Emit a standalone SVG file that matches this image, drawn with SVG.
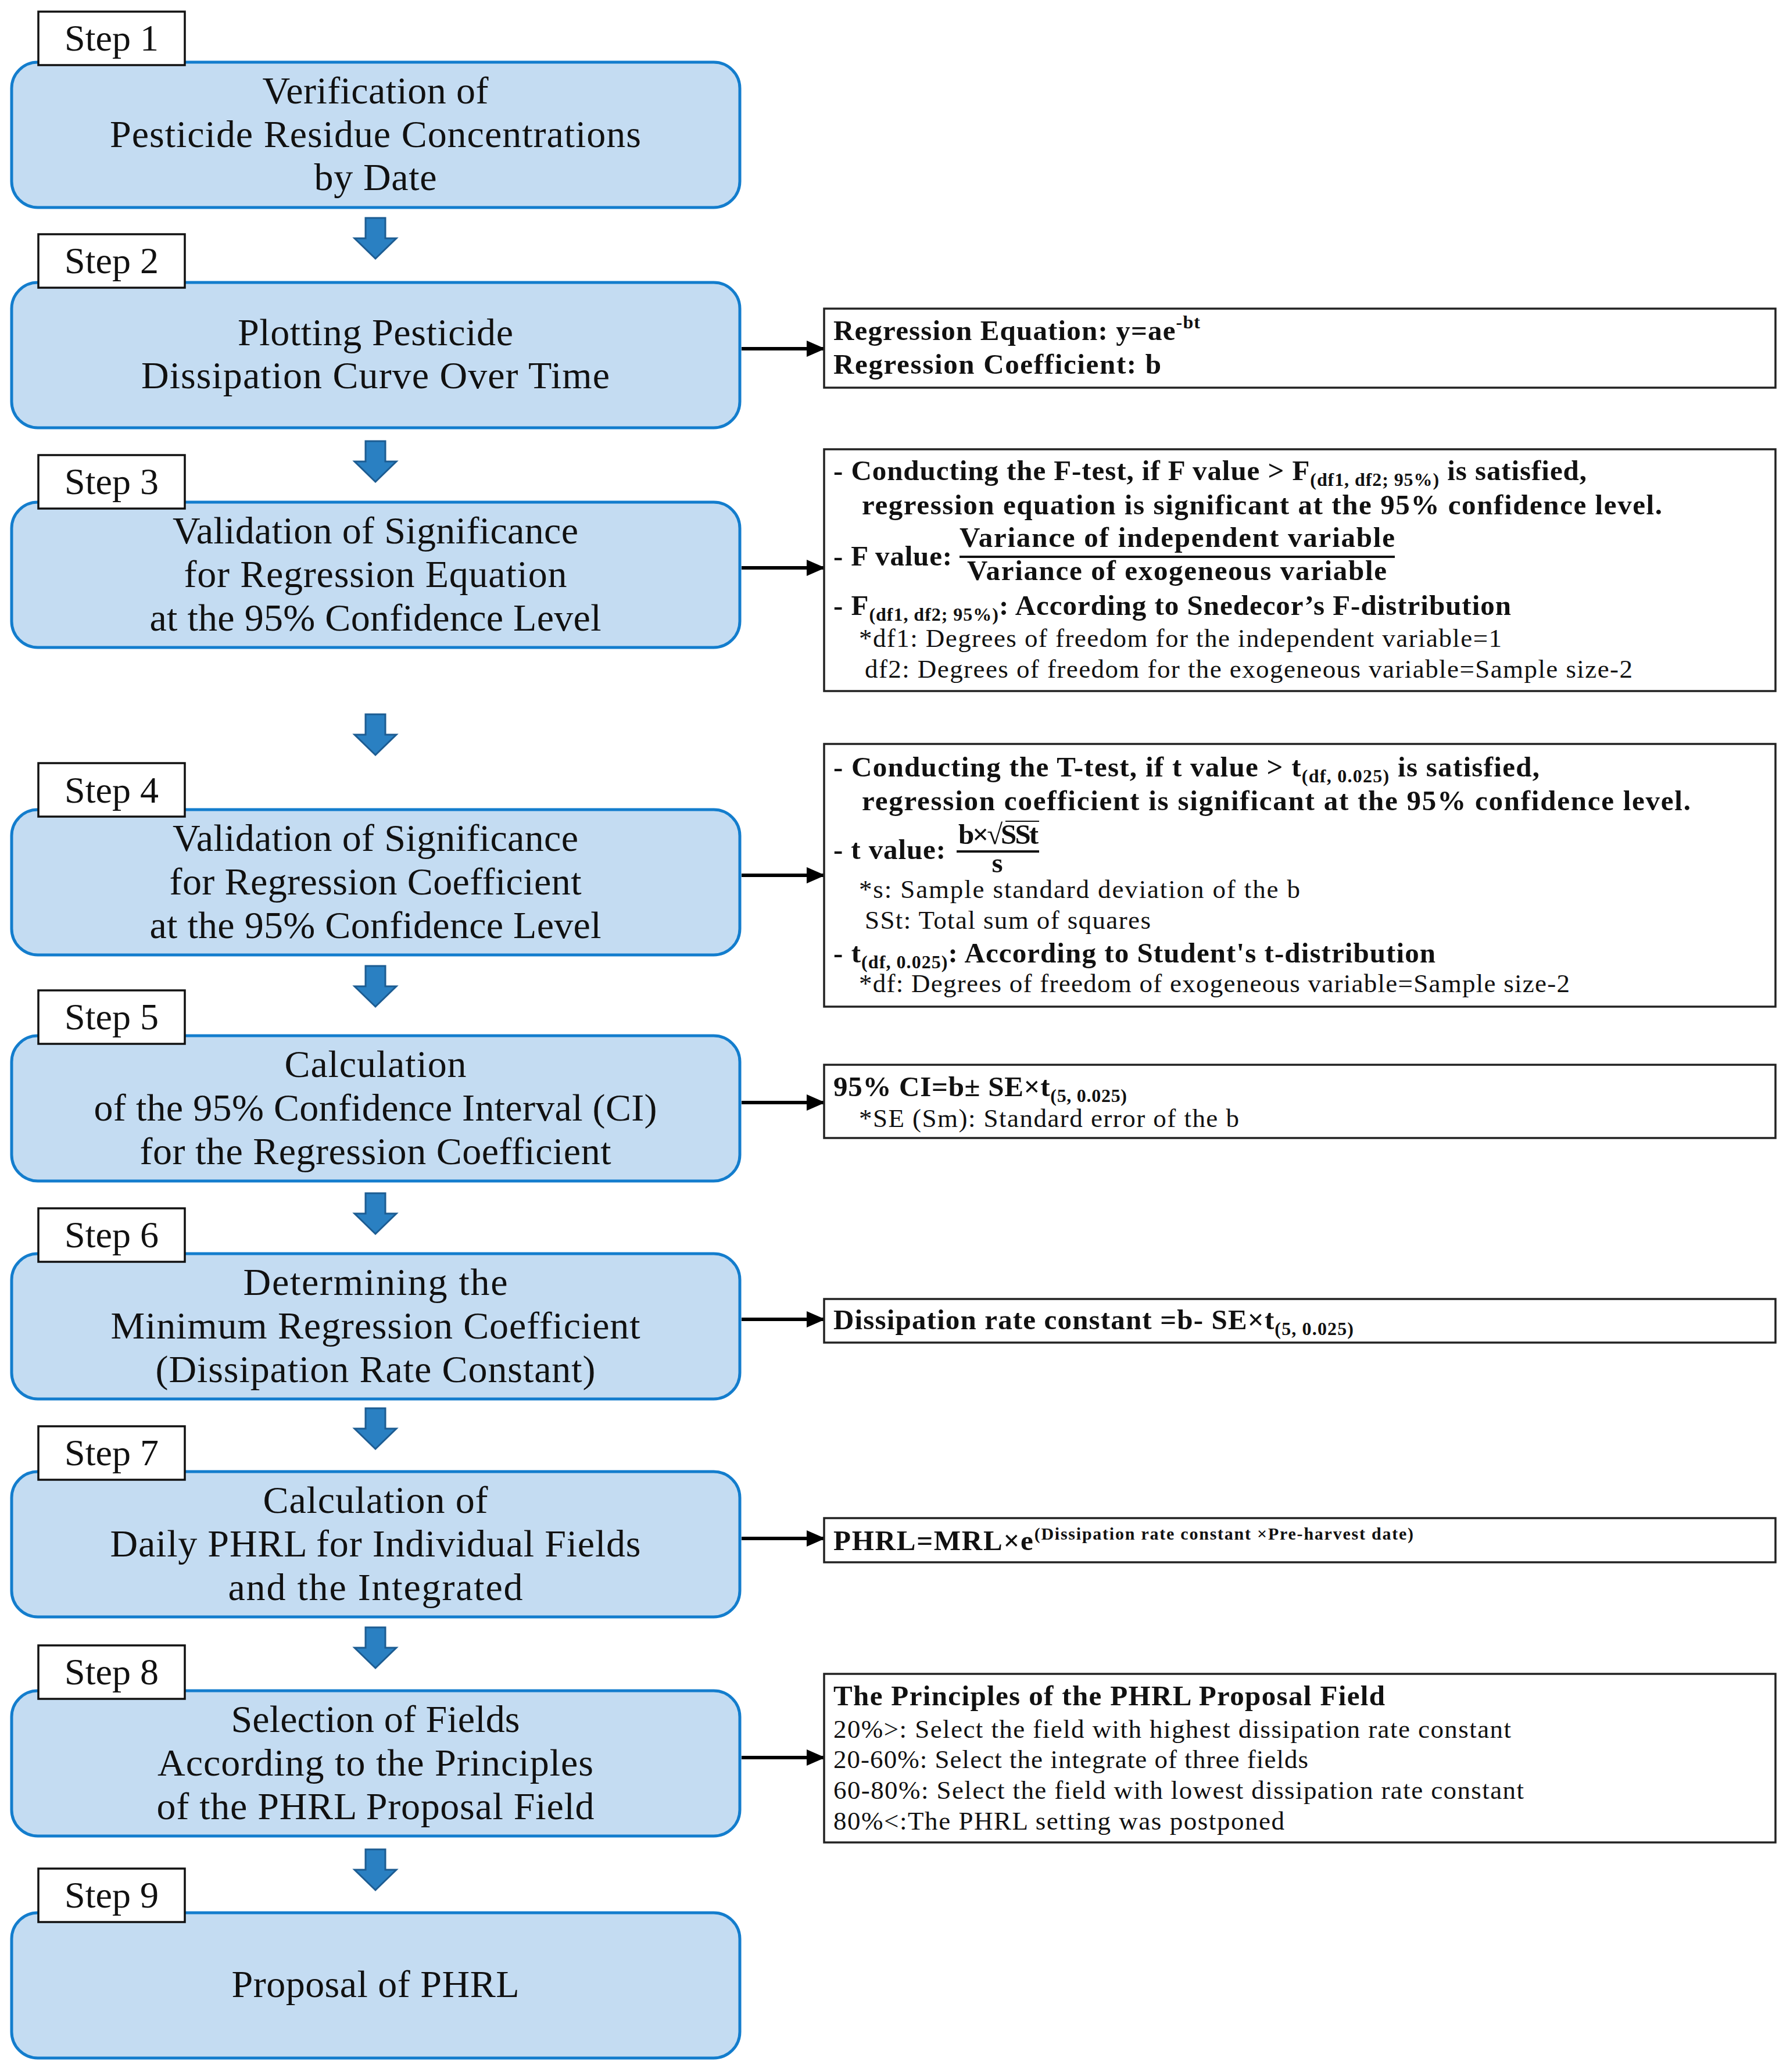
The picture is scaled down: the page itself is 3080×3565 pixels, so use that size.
<svg xmlns="http://www.w3.org/2000/svg" width="3080" height="3565" viewBox="0 0 3080 3565">
<style>
.box{fill:#c4dcf2;stroke:#137dcd;stroke-width:5}
.lab{fill:#fff;stroke:#111;stroke-width:3.5}
.rb{fill:#fff;stroke:#222;stroke-width:3.5}
.mt{font-family:"Liberation Serif",serif;font-size:66px;text-anchor:middle;fill:#111}
.st{font-family:"Liberation Serif",serif;font-size:64px;text-anchor:middle;fill:#111}
.b{font-family:"Liberation Serif",serif;font-size:49px;font-weight:bold;fill:#111}
.r{font-family:"Liberation Serif",serif;font-size:45px;fill:#111}
.arr{fill:#2a80c2;stroke:#1c5c92;stroke-width:3}
.con{stroke:#000;stroke-width:6;fill:none;marker-end:url(#ah)}
.fl{stroke:#111;stroke-width:4}
</style>
<defs>
<marker id="ah" markerUnits="userSpaceOnUse" markerWidth="32" markerHeight="28" refX="30" refY="14" orient="auto">
<path d="M0,0 L32,14 L0,28 z" fill="#000"/>
</marker>
<path id="dn" class="arr" d="M-17,0 H17 V35 H36 L0,70 L-36,35 H-17 Z"/>
</defs>

<g id="connectors">
<use href="#dn" x="646" y="375"/>
<use href="#dn" x="646" y="759"/>
<use href="#dn" x="646" y="1229"/>
<use href="#dn" x="646" y="1662"/>
<use href="#dn" x="646" y="2053"/>
<use href="#dn" x="646" y="2423"/>
<use href="#dn" x="646" y="2800"/>
<use href="#dn" x="646" y="3182"/>
<line class="con" x1="1276" y1="600" x2="1418" y2="600"/>
<line class="con" x1="1276" y1="977" x2="1418" y2="977"/>
<line class="con" x1="1276" y1="1506" x2="1418" y2="1506"/>
<line class="con" x1="1276" y1="1897" x2="1418" y2="1897"/>
<line class="con" x1="1276" y1="2270" x2="1418" y2="2270"/>
<line class="con" x1="1276" y1="2647" x2="1418" y2="2647"/>
<line class="con" x1="1276" y1="3024" x2="1418" y2="3024"/>
</g>

<g id="step1">
<rect class="box" x="20" y="107" width="1253" height="250" rx="45"/>
<rect class="lab" x="66" y="20" width="252" height="92"/>
<text class="st" x="192" y="87">Step 1</text>
<text class="mt" x="646" y="178" textLength="389">Verification of</text>
<text class="mt" x="646" y="253" textLength="914">Pesticide Residue Concentrations</text>
<text class="mt" x="646" y="327" textLength="211">by Date</text>
</g>

<g id="step2">
<rect class="box" x="20" y="486" width="1253" height="250" rx="45"/>
<rect class="lab" x="66" y="403" width="252" height="92"/>
<text class="st" x="192" y="470">Step 2</text>
<text class="mt" x="646" y="594" textLength="474">Plotting Pesticide</text>
<text class="mt" x="646" y="668" textLength="806">Dissipation Curve Over Time</text>
</g>

<g id="step3">
<rect class="box" x="20" y="864" width="1253" height="250" rx="45"/>
<rect class="lab" x="66" y="783" width="252" height="92"/>
<text class="st" x="192" y="850">Step 3</text>
<text class="mt" x="646" y="935" textLength="698">Validation of Significance</text>
<text class="mt" x="646" y="1010" textLength="659">for Regression Equation</text>
<text class="mt" x="646" y="1085" textLength="777">at the 95% Confidence Level</text>
</g>

<g id="step4">
<rect class="box" x="20" y="1393" width="1253" height="250" rx="45"/>
<rect class="lab" x="66" y="1313" width="252" height="92"/>
<text class="st" x="192" y="1381">Step 4</text>
<text class="mt" x="646" y="1464" textLength="698">Validation of Significance</text>
<text class="mt" x="646" y="1539" textLength="709">for Regression Coefficient</text>
<text class="mt" x="646" y="1614" textLength="777">at the 95% Confidence Level</text>
</g>

<g id="step5">
<rect class="box" x="20" y="1782" width="1253" height="250" rx="45"/>
<rect class="lab" x="66" y="1704" width="252" height="92"/>
<text class="st" x="192" y="1771">Step 5</text>
<text class="mt" x="646" y="1853" textLength="313">Calculation</text>
<text class="mt" x="646" y="1928" textLength="969">of the 95% Confidence Interval (CI)</text>
<text class="mt" x="646" y="2003" textLength="811">for the Regression Coefficient</text>
</g>

<g id="step6">
<rect class="box" x="20" y="2157" width="1253" height="250" rx="45"/>
<rect class="lab" x="66" y="2079" width="252" height="92"/>
<text class="st" x="192" y="2146">Step 6</text>
<text class="mt" x="646" y="2228" textLength="455">Determining the</text>
<text class="mt" x="646" y="2303" textLength="911">Minimum Regression Coefficient</text>
<text class="mt" x="646" y="2378" textLength="757">(Dissipation Rate Constant)</text>
</g>

<g id="step7">
<rect class="box" x="20" y="2532" width="1253" height="250" rx="45"/>
<rect class="lab" x="66" y="2454" width="252" height="92"/>
<text class="st" x="192" y="2521">Step 7</text>
<text class="mt" x="646" y="2603" textLength="387">Calculation of</text>
<text class="mt" x="646" y="2678" textLength="913">Daily PHRL for Individual Fields</text>
<text class="mt" x="646" y="2753" textLength="507">and the Integrated</text>
</g>

<g id="step8">
<rect class="box" x="20" y="2909" width="1253" height="250" rx="45"/>
<rect class="lab" x="66" y="2831" width="252" height="92"/>
<text class="st" x="192" y="2898">Step 8</text>
<text class="mt" x="646" y="2980" textLength="497">Selection of Fields</text>
<text class="mt" x="646" y="3055" textLength="750">According to the Principles</text>
<text class="mt" x="646" y="3130" textLength="753">of the PHRL Proposal Field</text>
</g>

<g id="step9">
<rect class="box" x="20" y="3291" width="1253" height="250" rx="45"/>
<rect class="lab" x="66" y="3215" width="252" height="92"/>
<text class="st" x="192" y="3282">Step 9</text>
<text class="mt" x="646" y="3436" textLength="495">Proposal of PHRL</text>
</g>

<g id="note2">
<rect class="rb" x="1418" y="531" width="1637" height="136"/>
<text class="b" x="1434" y="585" textLength="631">Regression Equation: y=ae<tspan font-size="32" dy="-20">-bt</tspan></text>
<text class="b" x="1434" y="643" textLength="564">Regression Coefficient: b</text>
</g>

<g id="note3">
<rect class="rb" x="1418" y="773" width="1637" height="416"/>
<text class="b" x="1434" y="826" textLength="1296">- Conducting the F-test, if F value &gt; F<tspan font-size="32" dy="10">(df1, df2; 95%)</tspan><tspan dy="-10"> is satisfied,</tspan></text>
<text class="b" x="1483" y="885" textLength="1377">regression equation is significant at the 95% confidence level.</text>
<text class="b" x="1651" y="941" textLength="749">Variance of independent variable</text>
<line class="fl" x1="1651" y1="958" x2="2400" y2="958"/>
<text class="b" x="1434" y="973" textLength="204">- F value:</text>
<text class="b" x="1664" y="998" textLength="722">Variance of exogeneous variable</text>
<text class="b" x="1434" y="1058" textLength="1166">- F<tspan font-size="32" dy="10">(df1, df2; 95%)</tspan><tspan dy="-10">: According to Snedecor’s F-distribution</tspan></text>
<text class="r" x="1478" y="1113" textLength="1106">*df1: Degrees of freedom for the independent variable=1</text>
<text class="r" x="1488" y="1166" textLength="1321">df2: Degrees of freedom for the exogeneous variable=Sample size-2</text>
</g>

<g id="note4">
<rect class="rb" x="1418" y="1280" width="1637" height="452"/>
<text class="b" x="1434" y="1336" textLength="1215">- Conducting the T-test, if t value &gt; t<tspan font-size="32" dy="10">(df, 0.025)</tspan><tspan dy="-10"> is satisfied,</tspan></text>
<text class="b" x="1483" y="1394" textLength="1426">regression coefficient is significant  at the 95% confidence level.</text>
<text class="b" x="1649" y="1452" font-size="42" textLength="138">b×√SSt</text>
<line x1="1730" y1="1413" x2="1788" y2="1413" stroke="#111" stroke-width="2"/>
<line class="fl" x1="1646" y1="1465" x2="1788" y2="1465"/>
<text class="b" x="1434" y="1478" textLength="193">- t value:</text>
<text class="b" x="1716" y="1501" text-anchor="middle">s</text>
<text class="r" x="1478" y="1545" textLength="759">*s:  Sample standard deviation of the b</text>
<text class="r" x="1488" y="1598" textLength="492">SSt: Total sum of squares</text>
<text class="b" x="1434" y="1656" textLength="1036">- t<tspan font-size="32" dy="10">(df, 0.025)</tspan><tspan dy="-10">: According to Student's t-distribution</tspan></text>
<text class="r" x="1478" y="1707" textLength="1223">*df: Degrees of freedom of exogeneous variable=Sample size-2</text>
</g>

<g id="note5">
<rect class="rb" x="1418" y="1832" width="1637" height="126"/>
<text class="b" x="1434" y="1886" textLength="505">95% CI=b± SE×t<tspan font-size="32" dy="10">(5, 0.025)</tspan></text>
<text class="r" x="1478" y="1939" textLength="654">*SE (Sm):  Standard error of the b</text>
</g>

<g id="note6">
<rect class="rb" x="1418" y="2235" width="1637" height="75"/>
<text class="b" x="1434" y="2287" textLength="895">Dissipation rate constant =b- SE×t<tspan font-size="32" dy="10">(5, 0.025)</tspan></text>
</g>

<g id="note7">
<rect class="rb" x="1418" y="2612" width="1637" height="76"/>
<text class="b" x="1434" y="2667" textLength="998">PHRL=MRL×e<tspan font-size="30" dy="-18">(Dissipation rate constant ×Pre-harvest date)</tspan></text>
</g>

<g id="note8">
<rect class="rb" x="1418" y="2880" width="1637" height="290"/>
<text class="b" x="1434" y="2934" textLength="949">The Principles of the PHRL Proposal Field</text>
<text class="r" x="1434" y="2990" textLength="1166">20%&gt;: Select the field with highest dissipation rate constant</text>
<text class="r" x="1434" y="3042" textLength="817">20-60%: Select the integrate of three fields</text>
<text class="r" x="1434" y="3095" textLength="1188">60-80%: Select the field with lowest dissipation rate constant</text>
<text class="r" x="1434" y="3148" textLength="776">80%&lt;:The PHRL setting was postponed</text>
</g>
</svg>
